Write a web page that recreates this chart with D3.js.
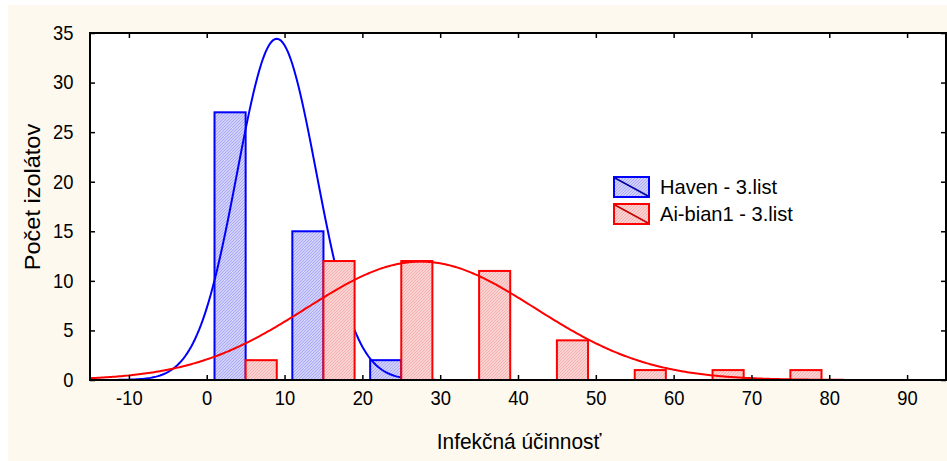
<!DOCTYPE html>
<html>
<head>
<meta charset="utf-8">
<script src="https://cdn.jsdelivr.net/npm/d3@7"></script>
<style>
  body { margin: 0; background: #fff; }
  text { font-family: "Liberation Sans", Arial, sans-serif; }
</style>
</head>
<body>
<script>
// histogram bins (start of each 10-wide bin)
const binStarts = [-10, 0, 10, 20, 30, 40, 50, 60, 70, 80]
const havenCounts = [0, 27, 15, 2, 0, 0, 0, 0, 0, 0]
const aibianCounts = [0, 2, 12, 12, 11, 4, 1, 1, 1, 0]
const seriesNames = ['Haven - 3.list', 'Ai-bian1 - 3.list']
const xTicks = [-10, 0, 10, 20, 30, 40, 50, 60, 70, 80, 90]
const yTicks = [0, 5, 10, 15, 20, 25, 30, 35]
// fitted normal curves
const havenFit = { mean: 9, sd: 5.1 }
const aibianFit = { mean: 27.5, sd: 14.7 }
const binWidth = 10

const W = 947, H = 461
const plot = { left: 90, top: 33, right: 946, bottom: 380 }

const svg = d3.select('body').append('svg')
  .attr('width', W).attr('height', H)

// beige panel
svg.append('rect').attr('x', 8).attr('y', 5)
  .attr('width', W - 8).attr('height', H - 5)
  .attr('fill', '#fdf9ef')

const defs = svg.append('defs')
function hatch(id, bg, line) {
  const p = defs.append('pattern').attr('id', id)
    .attr('patternUnits', 'userSpaceOnUse').attr('width', 3).attr('height', 3)
  p.append('rect').attr('width', 3).attr('height', 3).attr('fill', bg)
  p.append('path').attr('d', 'M0,3 L3,0 M-1,1 L1,-1 M2,4 L4,2')
    .attr('stroke', line).attr('stroke-width', 0.8)
}
hatch('hBlue', '#d0d0fb', '#a0a0f2')
hatch('hRed', '#fbd2d2', '#f2a8a8')

const x = d3.scaleLinear().domain([-15, 95]).range([plot.left, plot.right])
const y = d3.scaleLinear().domain([0, 35]).range([plot.bottom, plot.top])

svg.append('rect')
  .attr('x', plot.left).attr('y', plot.top)
  .attr('width', plot.right - plot.left).attr('height', plot.bottom - plot.top)
  .attr('fill', '#fff')

const g = svg.append('g')

function drawBars(counts, offset, fill, stroke) {
  g.append('g').selectAll('rect')
    .data(binStarts.map((b, i) => ({ b, c: counts[i] })))
    .enter().append('rect')
    .attr('x', d => x(d.b + offset))
    .attr('width', x(4) - x(0))
    .attr('y', d => y(d.c))
    .attr('height', d => y(0) - y(d.c))
    .attr('fill', fill)
    .attr('stroke', stroke)
    .attr('stroke-width', 2)
}

function drawCurve(fit, counts, stroke) {
  const n = d3.sum(counts)
  const pts = d3.range(-15, 95.01, 0.25).map(v => [v,
    n * binWidth * Math.exp(-((v - fit.mean) ** 2) / (2 * fit.sd * fit.sd)) / (fit.sd * Math.sqrt(2 * Math.PI))])
  g.append('path')
    .attr('d', d3.line().x(d => x(d[0])).y(d => y(d[1]))(pts))
    .attr('fill', 'none').attr('stroke', stroke).attr('stroke-width', 2)
}

// draw order matters: blue curve sits under the red bars
drawBars(havenCounts, 1, 'url(#hBlue)', '#0000ff')
drawCurve(havenFit, havenCounts, '#0000ff')
drawBars(aibianCounts, 5, 'url(#hRed)', '#ff0000')
drawCurve(aibianFit, aibianCounts, '#ff0000')

// axes, ticks pointing inward on all four sides
const plain = d => String(d)
svg.append('g').attr('class', 'xaxis').attr('transform', `translate(0,${plot.bottom})`)
  .call(d3.axisBottom(x).tickValues(xTicks).tickFormat(plain).tickSizeInner(-5).tickSizeOuter(0).tickPadding(11))
svg.append('g').attr('class', 'yaxis').attr('transform', `translate(${plot.left},0)`)
  .call(d3.axisLeft(y).tickValues(yTicks).tickFormat(plain).tickSizeInner(-5).tickSizeOuter(0).tickPadding(18))
svg.append('g').attr('transform', `translate(0,${plot.top})`)
  .call(d3.axisTop(x).tickValues(xTicks).tickSizeInner(-5).tickSizeOuter(0).tickFormat(''))
svg.append('g').attr('transform', `translate(${plot.right},0)`)
  .call(d3.axisRight(y).tickValues(yTicks).tickSizeInner(-5).tickSizeOuter(0).tickFormat(''))
svg.selectAll('.domain').remove()
svg.selectAll('.tick line').attr('stroke', '#000').attr('stroke-width', 1.5)
svg.selectAll('.tick text').attr('font-size', '20px').attr('fill', '#000')
  .style('font-family', '"Liberation Sans", Arial, sans-serif')
  .attr('transform', 'scale(0.92,1)')

svg.append('rect')
  .attr('x', plot.left).attr('y', plot.top)
  .attr('width', plot.right - plot.left).attr('height', plot.bottom - plot.top)
  .attr('fill', 'none').attr('stroke', '#000').attr('stroke-width', 2)

// axis titles (source text is a bit condensed)
svg.append('text')
  .attr('transform', 'translate(519,449) scale(0.95,1)')
  .attr('text-anchor', 'middle').attr('font-size', '22px')
  .text('Infekčná účinnosť')
svg.append('text')
  .attr('transform', 'translate(40,197) rotate(-90) scale(1,0.93)')
  .attr('text-anchor', 'middle').attr('font-size', '23.5px')
  .text('Počet izolátov')

// legend
const legend = svg.append('g')
const lg = [
  { name: seriesNames[0], fill: 'url(#hBlue)', stroke: '#0000ff', line: '#0000a0' },
  { name: seriesNames[1], fill: 'url(#hRed)', stroke: '#ff0000', line: '#c00000' }
]
lg.forEach((d, i) => {
  const yy = 177 + i * 27
  legend.append('rect').attr('x', 614).attr('y', yy).attr('width', 35).attr('height', 20)
    .attr('fill', d.fill).attr('stroke', d.stroke).attr('stroke-width', 2)
  legend.append('line').attr('x1', 615).attr('y1', yy + 1).attr('x2', 648).attr('y2', yy + 19)
    .attr('stroke', d.line).attr('stroke-width', 1.5)
  legend.append('text')
    .attr('transform', `translate(660,${yy + 17}) scale(0.98,1)`)
    .attr('font-size', '20.5px').text(d.name)
})
</script>
</body>
</html>
